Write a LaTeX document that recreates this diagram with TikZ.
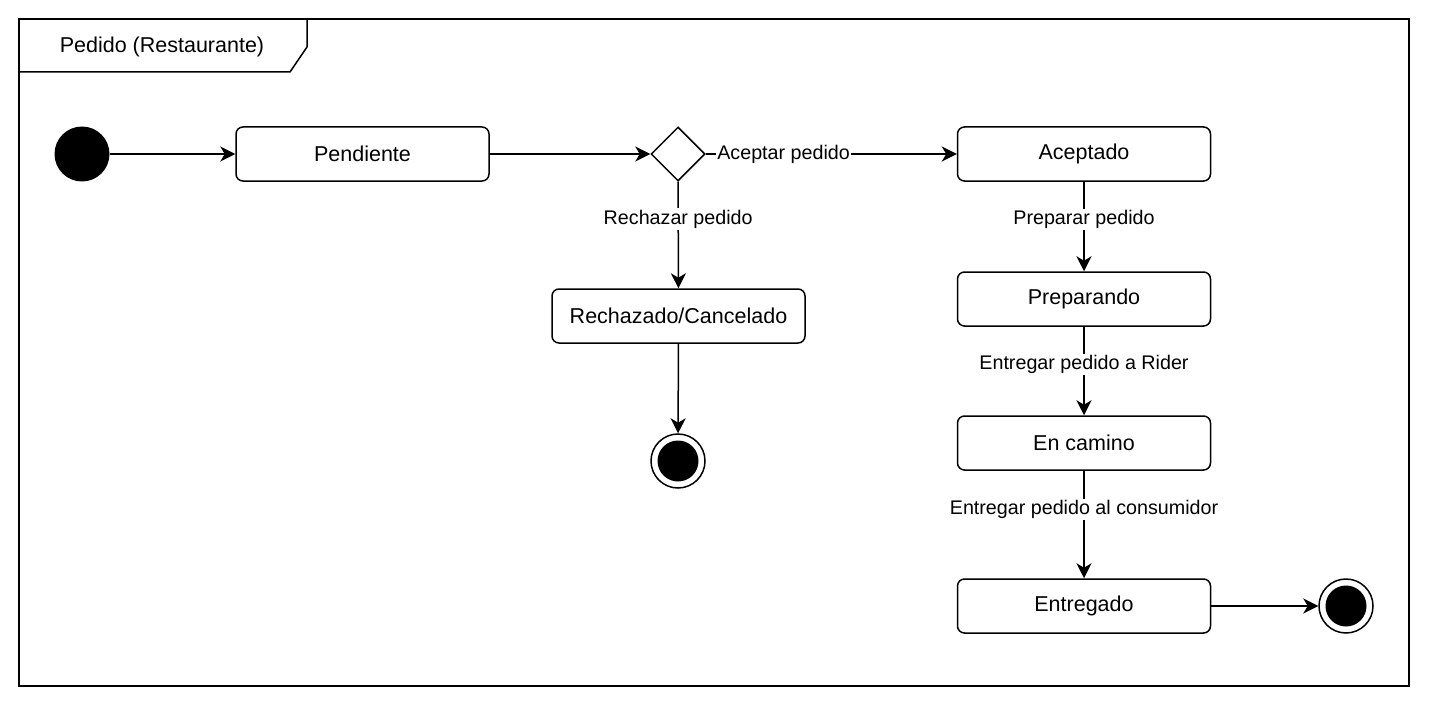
\documentclass[tikz,border=0pt]{standalone}
\usepackage{fontspec}
\setmainfont{Liberation Sans}
\usetikzlibrary{arrows.meta,shapes.geometric}

\begin{document}
\begin{tikzpicture}[x=1pt,y=-1pt,line width=1.5pt,
  stato/.style={draw,rounded corners=7pt,minimum width=253pt,minimum height=54pt,inner sep=0pt,font=\fontsize{21.5}{26}\selectfont},
  scelta/.style={draw,diamond,aspect=1,minimum width=54pt,minimum height=54pt,inner sep=0pt},
  inizio/.style={circle,fill,minimum size=55pt,inner sep=0pt},
  fine/.style={circle,draw,minimum size=54pt,inner sep=0pt,
    path picture={\fill (path picture bounding box.center) circle (20.5pt);}},
  freccia/.style={-{Stealth[length=15pt,width=15pt,inset=4.5pt]}},
  etich/.style={fill=white,inner sep=1.5pt,font=\fontsize{19.7}{24}\selectfont}]

\useasboundingbox (0,0) rectangle (1430,706);

%Cornice
\draw (19,19) rectangle (1409,686);
\draw (19,72) -- (290,72) -- (307,47) -- (307,19);
\node[font=\fontsize{21.5}{26}\selectfont] (tit) at (162,47) {Pedido (Restaurante)};

%Stati
\node[inizio] (ini) at (82,154) {};
\node[stato] (pend) at (362.5,154) {Pendiente};
\node[scelta] (dec) at (678,154) {};
\node[stato] (acc) at (1084,154) {Aceptado};
\node[stato] (rech) at (678.5,316) {Rechazado/Cancelado};
\node[stato] (prep) at (1084,299) {Preparando};
\node[stato] (cam) at (1084,443) {En camino};
\node[stato] (entr) at (1084,606) {Entregado};
\node[fine] (fin1) at (678,461) {};
\node[fine] (fin2) at (1346,606) {};

%Transizioni
\draw[freccia] (ini) -- (pend);
\draw[freccia] (pend) -- (dec);
\draw[freccia] (dec) -- node[etich,pos=0.31] {Aceptar pedido} (acc);
\draw[freccia] (dec) -- node[etich,pos=0.35] {Rechazar pedido} (rech);
\draw[freccia] (rech) -- (fin1);
\draw[freccia] (acc) -- node[etich,pos=0.42] {Preparar pedido} (prep);
\draw[freccia] (prep) -- node[etich,pos=0.43] {Entregar pedido a Rider} (cam);
\draw[freccia] (cam) -- node[etich,pos=0.36] {Entregar pedido al consumidor} (entr);
\draw[freccia] (entr) -- (fin2);

\end{tikzpicture}
\end{document}
